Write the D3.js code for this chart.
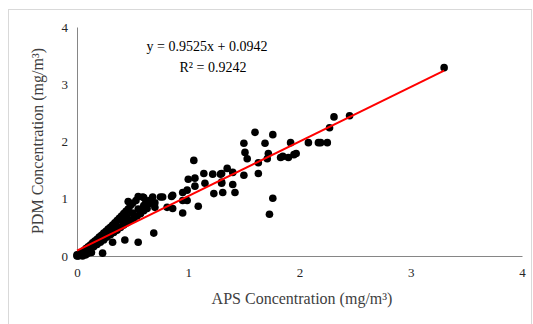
<!DOCTYPE html>
<html lang="en">
    <head>
        <meta charset="utf-8">
        <title>APS vs PDM</title>
        <script type="text/javascript" src="https://cdn.jsdelivr.net/npm/d3@7"></script>
        <style type="text/css">
            body { margin: 0; background: #fff; }
            .axis path { stroke: #868686; }
        </style>
    </head>
    <body>
        <script type="text/javascript">
            var w = 533;
            var h = 324;

            //Data
            var apsConc = [
                0.00, 0.01, 0.02, 0.00, 0.05, 0.08, 0.10, 0.13, 0.04,
                0.02, 0.04, 0.06, 0.08, 0.10, 0.12, 0.14, 0.16, 0.18, 0.20, 0.22, 0.24, 0.26, 0.28,
                0.30, 0.32, 0.34, 0.36, 0.38, 0.40, 0.42, 0.44, 0.46, 0.48, 0.50, 0.53, 0.55,
                0.03, 0.06, 0.09, 0.12, 0.15, 0.18, 0.21, 0.24, 0.27, 0.30, 0.33, 0.36, 0.39,
                0.42, 0.45, 0.48, 0.51, 0.54, 0.57, 0.60, 0.63,
                0.35, 0.40, 0.45, 0.50, 0.55, 0.60, 0.62, 0.46, 0.60, 0.65, 0.70,
                0.23, 0.32, 0.43, 0.55, 0.69,
                0.68, 0.75, 0.81, 0.86, 0.86, 0.77, 0.95, 0.99, 1.09, 0.95, 0.66, 0.70, 0.59, 0.57,
                1.05, 1.14, 1.22, 1.29, 1.35, 1.00, 1.06, 0.99, 1.06, 1.15, 1.30, 1.40, 1.23, 1.31,
                1.42, 1.40, 1.30, 1.50, 1.63, 1.30, 0.85, 0.95,
                1.60, 1.76, 1.50, 1.69, 1.51, 1.53, 1.72, 1.71, 1.63, 1.85, 1.90, 1.95, 1.97, 1.92,
                2.08, 2.17, 2.19, 2.25, 1.76, 1.73, 2.31, 2.45, 2.27, 1.83, 3.30
            ];
            var pdmConc = [
                0.00, 0.00, 0.01, 0.02, 0.00, 0.02, 0.05, 0.06, 0.03,
                0.03, 0.06, 0.09, 0.13, 0.16, 0.19, 0.23, 0.26, 0.29, 0.33, 0.36, 0.40, 0.43, 0.47,
                0.50, 0.54, 0.58, 0.62, 0.66, 0.70, 0.74, 0.78, 0.82, 0.88, 0.92, 0.97, 1.04,
                0.02, 0.05, 0.08, 0.12, 0.16, 0.20, 0.24, 0.28, 0.33, 0.37, 0.41, 0.45, 0.50,
                0.54, 0.58, 0.62, 0.66, 0.70, 0.74, 0.79, 0.83,
                0.52, 0.62, 0.68, 0.75, 0.82, 0.88, 0.95, 0.95, 1.02, 0.97, 0.93,
                0.05, 0.24, 0.28, 0.24, 0.40,
                1.03, 1.03, 0.85, 0.83, 1.06, 1.03, 1.11, 0.97, 0.87, 0.75, 0.92, 0.85, 1.03, 0.75,
                1.67, 1.44, 1.43, 1.43, 1.53, 1.34, 1.36, 1.15, 1.22, 1.27, 1.29, 1.25, 1.09, 1.11,
                1.11, 1.46, 1.44, 1.41, 1.44, 1.27, 1.04, 0.97,
                2.16, 2.12, 1.97, 1.97, 1.81, 1.70, 1.79, 1.70, 1.63, 1.74, 1.72, 1.77, 1.79, 1.98,
                1.98, 1.98, 1.98, 1.98, 1.01, 0.73, 2.43, 2.45, 2.24, 1.72, 3.29
            ];
            var tickValues = [0, 1, 2, 3, 4];
            var slope = 0.9525;
            var intercept = 0.0942;
            var fitRange = [0, 3.3];

            var dataset = apsConc.map(function(d, i) { return [d, pdmConc[i]]; });

            var serif = "'Liberation Serif', 'Times New Roman', serif";

            var xScale = d3.scaleLinear()
                .domain([0, 4])
                .range([77, 522]);
            var yScale = d3.scaleLinear()
                .domain([0, 4])
                .range([256, 27]);

            var svg = d3.select("body")
                .append("svg")
                .attr("width", w)
                .attr("height", h);

            // chart border
            svg.append("rect")
                .attr("x", 8.5).attr("y", 9.5)
                .attr("width", 523).attr("height", 320)
                .attr("fill", "none")
                .attr("stroke", "#d9d9d9");

            var xAxis = d3.axisBottom(xScale).tickValues(tickValues).tickFormat(d3.format("d"))
                .tickSize(0).tickPadding(12);
            var yAxis = d3.axisLeft(yScale).tickValues(tickValues).tickFormat(d3.format("d"))
                .tickSize(0).tickPadding(9);

            svg.append("g")
                .attr("class", "axis")
                .attr("transform", "translate(0," + yScale(0) + ")")
                .call(xAxis)
                .attr("font-family", serif).attr("font-size", 13);
            svg.append("g")
                .attr("class", "axis")
                .attr("transform", "translate(" + xScale(0) + ",0)")
                .call(yAxis)
                .attr("font-family", serif).attr("font-size", 13);
            svg.selectAll(".axis text").attr("fill", "#262626");

            svg.selectAll("circle")
                .data(dataset)
                .enter()
                .append("circle")
                .attr("cx", function(d) { return xScale(d[0]); })
                .attr("cy", function(d) { return yScale(d[1]); })
                .attr("r", 3.8)
                .attr("fill", "#000");

            // trend line
            var line = d3.line()
                .x(function(d) { return xScale(d); })
                .y(function(d) { return yScale(slope * d + intercept); });
            svg.append("path")
                .datum(fitRange)
                .attr("d", line)
                .attr("stroke", "#ff0000")
                .attr("stroke-width", 2)
                .attr("fill", "none");

            svg.append("text")
                .attr("x", 207).attr("y", 51)
                .attr("text-anchor", "middle")
                .attr("font-family", serif).attr("font-size", "14px").attr("fill", "#000")
                .text("y = 0.9525x + 0.0942");
            svg.append("text")
                .attr("x", 213).attr("y", 72)
                .attr("text-anchor", "middle")
                .attr("font-family", serif).attr("font-size", "14px").attr("fill", "#000")
                .text("R\u00b2 = 0.9242");

            svg.append("text")
                .attr("x", 302).attr("y", 304)
                .attr("text-anchor", "middle")
                .attr("font-family", serif).attr("font-size", "16px").attr("fill", "#404040")
                .text("APS Concentration (mg/m\u00b3)");
            svg.append("text")
                .attr("transform", "translate(43,141) rotate(-90)")
                .attr("text-anchor", "middle")
                .attr("font-family", serif).attr("font-size", "16px").attr("fill", "#404040")
                .text("PDM Concentration (mg/m\u00b3)");
        </script>
    </body>
</html>
